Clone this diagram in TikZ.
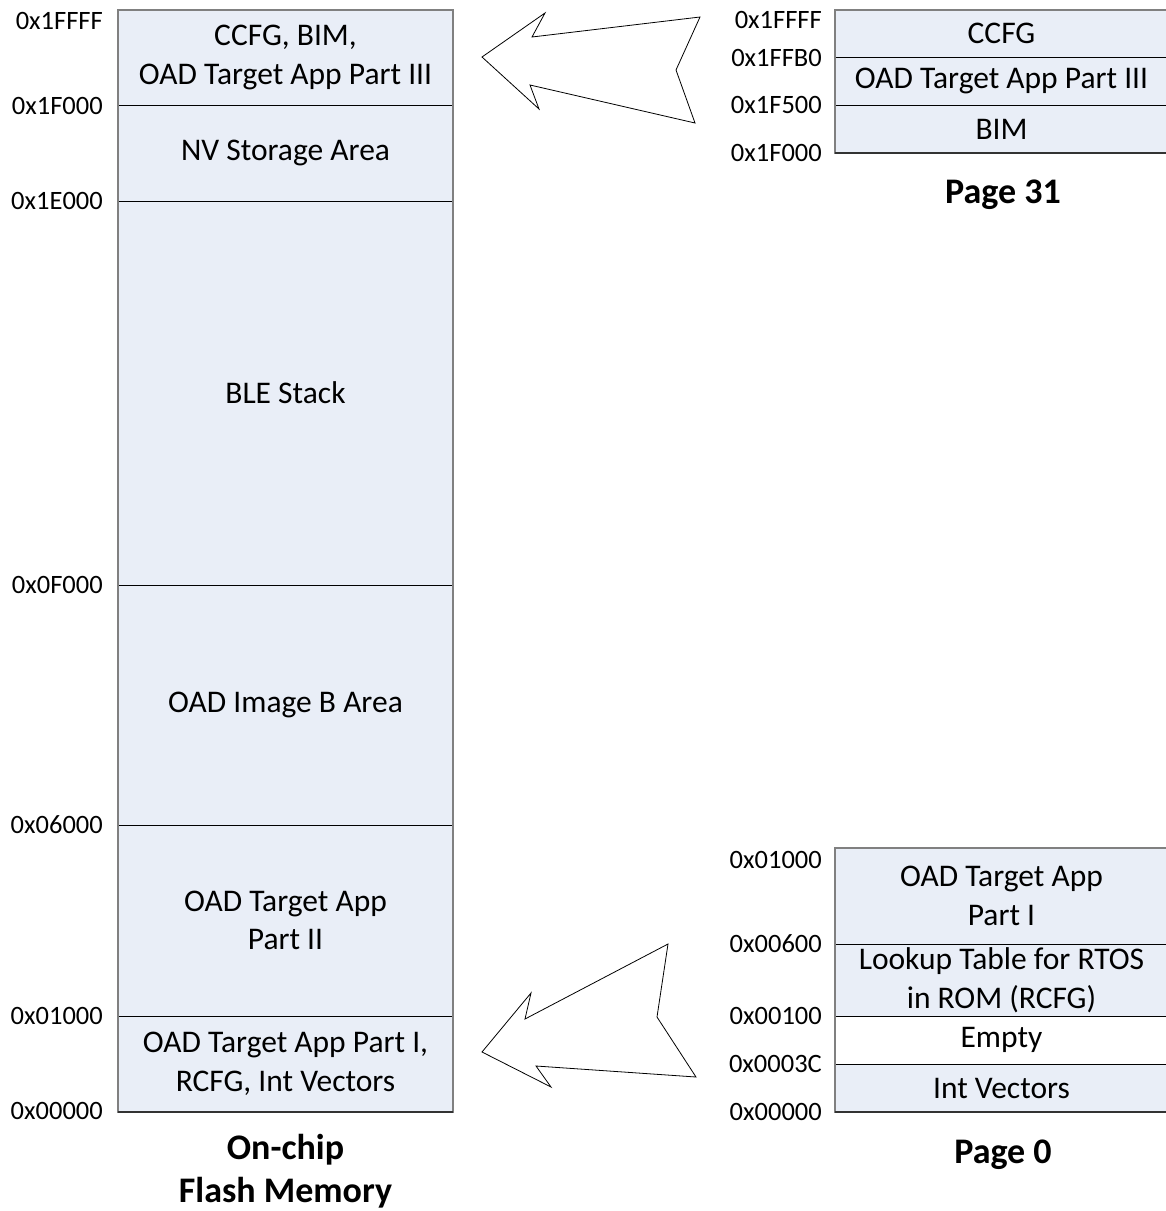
\documentclass[tikz,border=0pt]{standalone}
\usepackage{fontspec}
\setmainfont{Carlito}
\begin{document}
\begin{tikzpicture}[x=1pt,y=-1pt,
  cell/.style={rectangle, fill=cellblue, draw=none, inner sep=0pt, align=center,
    font=\fontsize{31.5}{38.5}\selectfont},
  blank/.style={cell, fill=white},
  addr/.style={anchor=east, inner sep=0pt, font=\fontsize{26.5}{30}\selectfont},
  title/.style={align=center, inner sep=0pt, font=\fontsize{36}{43}\selectfont\bfseries},
  divider/.style={black, line width=1.2pt},
  frame/.style={draw=framegray, line width=1.8pt},
  bigarrow/.style={draw=black, fill=white, line width=0.8pt, line join=miter}
]
\definecolor{cellblue}{RGB}{233,238,247}
\definecolor{framegray}{RGB}{128,128,128}
\useasboundingbox (0,0) rectangle (1166,1211);

% ---- On-chip flash memory map ----
\node[cell, minimum width=335pt, minimum height=95pt]  (m1) at (285.5,57.5) {CCFG, BIM,\\OAD Target App Part III};
\node[cell, minimum width=335pt, minimum height=96pt]  (m2) at (285.5,153)  {NV Storage Area};
\node[cell, minimum width=335pt, minimum height=384pt] (m3) at (285.5,393)  {BLE Stack};
\node[cell, minimum width=335pt, minimum height=240pt] (m4) at (285.5,705)  {OAD Image B Area};
\node[cell, minimum width=335pt, minimum height=191pt] (m5) at (285.5,920.5){OAD Target App\\Part II};
\node[cell, minimum width=335pt, minimum height=96pt]  (m6) at (285.5,1064) {OAD Target App Part I,\\RCFG, Int Vectors};
\foreach \c in {m1,m2,m3,m4,m5}
  \draw[divider] (\c.south west) -- (\c.south east);
\draw[frame] (m1.north west) rectangle (m6.south east);
\draw[black!80, line width=1.8pt] (m6.south west) -- (m6.south east);

\node[addr] (a1) at (103,21)   {0x1FFFF};
\node[addr] (a2) at (103,106)  {0x1F000};
\node[addr] (a3) at (103,201)  {0x1E000};
\node[addr] (a4) at (103,585)  {0x0F000};
\node[addr] (a5) at (103,825)  {0x06000};
\node[addr] (a6) at (103,1016) {0x01000};
\node[addr] (a7) at (103,1111) {0x00000};

\node[title] (tflash) at (285.5,1171) {On-chip\\Flash Memory};

% ---- Page 31 ----
\node[cell, minimum width=333pt, minimum height=47pt] (p1) at (1001.5,33.5) {CCFG};
\node[cell, minimum width=333pt, minimum height=48pt] (p2) at (1001.5,81)   {OAD Target App Part III};
\node[cell, minimum width=333pt, minimum height=48pt] (p3) at (1001.5,129)  {BIM};
\foreach \c in {p1,p2}
  \draw[divider] (\c.south west) -- (\c.south east);
\draw[frame] (p1.north west) rectangle (p3.south east);
\draw[black!80, line width=1.8pt] (p3.south west) -- (p3.south east);

\node[addr] (b1) at (822,20)  {0x1FFFF};
\node[addr] (b2) at (822,58)  {0x1FFB0};
\node[addr] (b3) at (822,105) {0x1F500};
\node[addr] (b4) at (822,153) {0x1F000};

\node[title] (tp31) at (1003,195) {Page 31};

% ---- Page 0 ----
\node[cell,  minimum width=333pt, minimum height=96pt] (q1) at (1001.5,896)  {OAD Target App\\Part I};
\node[cell,  minimum width=333pt, minimum height=72pt] (q2) at (1001.5,980)  {Lookup Table for RTOS\\in ROM (RCFG)};
\node[blank, minimum width=333pt, minimum height=48pt] (q3) at (1001.5,1040) {Empty};
\node[cell,  minimum width=333pt, minimum height=48pt] (q4) at (1001.5,1088) {Int Vectors};
\foreach \c in {q1,q2,q3}
  \draw[divider] (\c.south west) -- (\c.south east);
\draw[frame] (q1.north west) rectangle (q4.south east);
\draw[black!80, line width=1.8pt] (q4.south west) -- (q4.south east);

\node[addr] (d1) at (822,860)  {0x01000};
\node[addr] (d2) at (822,944)  {0x00600};
\node[addr] (d3) at (822,1016) {0x00100};
\node[addr] (d4) at (822,1064) {0x0003C};
\node[addr] (d5) at (822,1112) {0x00000};

\node[title] (tp0) at (1003,1155) {Page 0};

% ---- block arrows from the page maps to the flash map ----
\draw[bigarrow] (482,57) -- (545,13) -- (532,37) -- (700,17) -- (676,70)
  -- (695,123) -- (530,85) -- (539,109) -- cycle;
\draw[bigarrow] (482,1052) -- (531,993) -- (525,1019) -- (668,944) -- (657,1017)
  -- (696,1077) -- (536,1066) -- (551,1087) -- cycle;
\end{tikzpicture}
\end{document}
